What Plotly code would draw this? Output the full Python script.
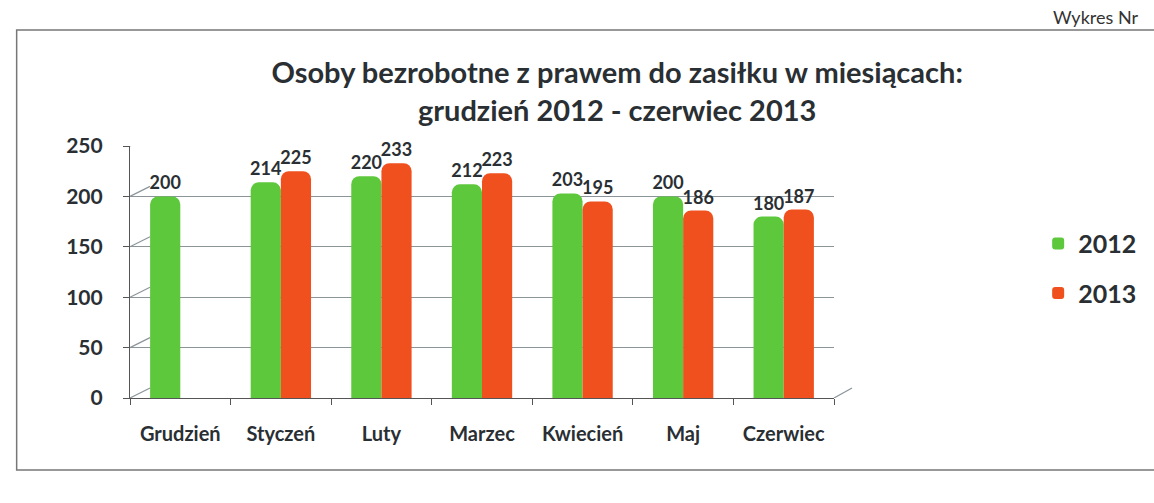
import plotly.graph_objects as go

months = ["Grudzień", "Styczeń", "Luty", "Marzec", "Kwiecień", "Maj", "Czerwiec"]
v2012 = [200, 214, 220, 212, 203, 200, 180]
v2013 = [None, 225, 233, 223, 195, 186, 187]
y_ticks = [0, 50, 100, 150, 200, 250]

GREEN = "#5ec83c"
RED = "#f0501e"
FONT = "Lato"
DARK = "#2a2f33"

fig = go.Figure()
fig.add_trace(go.Bar(
    x=months, y=v2012, name="2012", legendgroup="a",
    marker=dict(color=GREEN, line=dict(width=0), cornerradius=8),
    text=[str(v) for v in v2012], textposition="outside", constraintext="none",
    textfont=dict(family=FONT, size=18, color=DARK, weight="bold"),
    cliponaxis=False,
))
fig.add_trace(go.Bar(
    x=months, y=v2013, name="2013", legendgroup="b",
    marker=dict(color=RED, line=dict(width=0), cornerradius=8),
    text=[("" if v is None else str(v)) for v in v2013], textposition="outside",
    constraintext="none",
    textfont=dict(family=FONT, size=18, color=DARK, weight="bold"),
    cliponaxis=False,
))

fig.update_layout(
    width=1154, height=503,
    paper_bgcolor="white", plot_bgcolor="white",
    margin=dict(l=130, r=309, t=146, b=105),
    barmode="group", bargap=0.4, bargroupgap=0.0,
    showlegend=True,
    legend=dict(x=1.29, xanchor="left", y=0.515, yanchor="middle",
                font=dict(family=FONT, size=25, color=DARK, weight="bold"),
                tracegroupgap=14, itemwidth=30, bgcolor="rgba(0,0,0,0)"),
    title=dict(
        text="Osoby bezrobotne z prawem do zasiłku w miesiącach:<br>grudzień 2012 - czerwiec 2013",
        x=0.692, xanchor="center", xref="paper", y=0.835, yanchor="middle",
        font=dict(family=FONT, size=29, color=DARK, weight="bold"),
    ),
    font=dict(family=FONT, color=DARK),
)

fig.update_yaxes(
    range=[0, 250], tickvals=y_ticks, showgrid=True, gridcolor="#8a9499", gridwidth=1.2,
    showline=True, linecolor="#555", linewidth=1.2, ticks="outside", ticklen=6, tickcolor="#555",
    ticklabelstandoff=16,
    tickfont=dict(family=FONT, size=21, color=DARK, weight="bold"), zeroline=False,
)
fig.update_xaxes(
    showline=True, linecolor="#555", linewidth=1.2, ticks="outside", ticklen=6, tickcolor="#555",
    tickson="boundaries", ticklabelstandoff=18,
    tickfont=dict(family=FONT, size=20, color=DARK, weight="bold"),
)

# pseudo-3D connectors from the front axis to the back wall
for t in y_ticks:
    fig.add_shape(type="line", xref="paper", yref="y",
                  xsizemode="pixel", xanchor=0, x0=0, x1=20,
                  ysizemode="pixel", yanchor=t, y0=0, y1=10,
                  line=dict(color="#8a9499", width=1.2))
fig.add_shape(type="line", xref="paper", yref="y",
              xsizemode="pixel", xanchor=1, x0=0, x1=18,
              ysizemode="pixel", yanchor=0, y0=0, y1=10,
              line=dict(color="#8a9499", width=1.2))

# outer frame
fig.add_shape(type="rect", xref="paper", yref="paper", x0=-0.161, x1=1.48, y0=-0.286, y1=1.46,
              line=dict(color="#777", width=1.5), layer="below")
fig.add_annotation(text="Wykres Nr", xref="paper", yref="paper", x=1.435, y=1.51,
                   xanchor="right", yanchor="middle", showarrow=False,
                   font=dict(family=FONT, size=18, color="#333"))

fig.write_html("out.html", config={"displayModeBar": False},
               post_script="document.body.style.margin='0px';")
